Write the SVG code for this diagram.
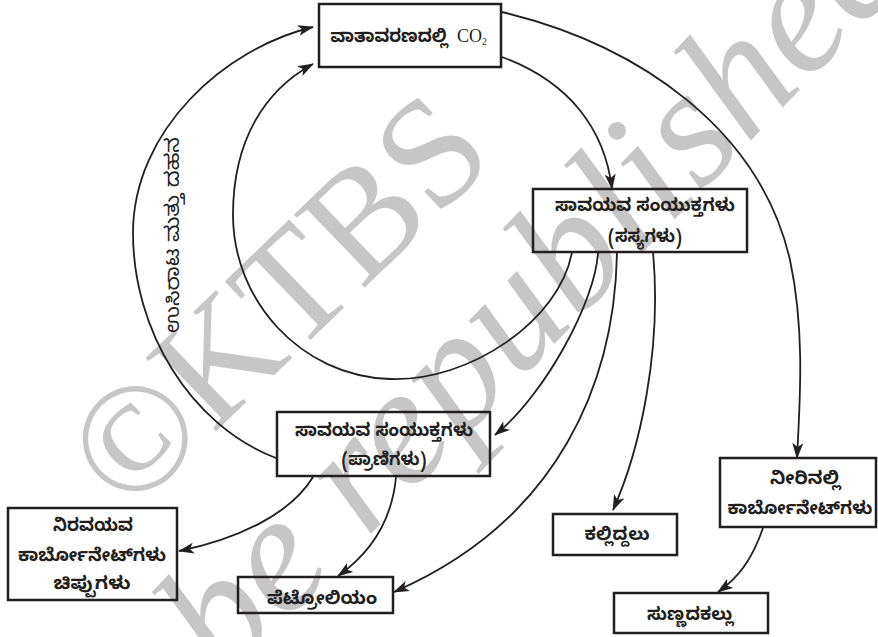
<svg xmlns="http://www.w3.org/2000/svg" width="878" height="637" viewBox="0 0 878 637">
<style>
.box{fill:none;stroke:#231f20;stroke-width:2.5}
.kn{font-family:"Noto Sans Kannada","Noto Sans",sans-serif;font-size:18px;font-weight:bold;fill:#231f20;text-anchor:middle}
.lbl{font-family:"Noto Sans Kannada","Noto Sans",sans-serif;font-size:19px;fill:#231f20;text-anchor:middle}
.serif{font-family:"Liberation Serif","Times New Roman",serif;font-size:18px;fill:#231f20}
.wm{font-family:"Liberation Serif","Times New Roman",serif;fill:#c6c6c6}
.conn path{fill:none;stroke:#231f20;stroke-width:1.8;marker-end:url(#ah)}
</style>
<defs>
<marker id="ah" markerWidth="16" markerHeight="12" refX="15" refY="6" orient="auto" markerUnits="userSpaceOnUse">
<path d="M0,0.5 L16,6 L0,11.5 L4,6 z" fill="#231f20"/>
</marker>
</defs>
<rect width="878" height="637" fill="#ffffff"/>
<g id="watermark">
<text class="wm" font-size="155" transform="translate(128,516) rotate(-44)">©KTBS</text>
<text class="wm" font-size="169" font-style="italic" transform="translate(226,684) rotate(-46)">be republished</text>
</g>
<g class="conn" id="connectors">
<path d="M276,458 C190,425 133,330 133,233 C133,130 225,48 313,27"/>
<path d="M572,252 C560,320 470,382 390,379 C300,376 233,300 233,215 C233,140 265,90 313,64"/>
<path d="M502,57 C570,82 605,130 612,189"/>
<path d="M502,12 C640,45 760,130 790,260 C805,330 800,400 797,458"/>
<path d="M598,252 C596,300 545,395 495,435"/>
<path d="M617,252 C615,380 560,520 394,592"/>
<path d="M653,252 C662,350 640,450 613,510"/>
<path d="M313,477 C290,515 235,540 179,551"/>
<path d="M396,477 C392,520 372,552 338,576"/>
<path d="M763,528 C752,560 738,578 718,592"/>
<text class="lbl" transform="translate(176,235) rotate(-90)" dominant-baseline="central" textLength="196" lengthAdjust="spacingAndGlyphs">ಉಸಿರಾಟ ಮತ್ತು ದಹನ</text>
</g>
<g id="n-atmosphere">
<rect class="box" x="319" y="4" width="182" height="63"/>
<text class="kn" x="389" y="42" textLength="117" lengthAdjust="spacingAndGlyphs">ವಾತಾವರಣದಲ್ಲಿ</text>
<text class="serif" x="457" y="42">CO<tspan font-size="10" dy="3">2</tspan></text>
</g>
<g id="n-plants">
<rect class="box" x="533" y="189" width="214" height="63"/>
<text class="kn" x="645" y="211" textLength="180" lengthAdjust="spacingAndGlyphs">ಸಾವಯವ ಸಂಯುಕ್ತಗಳು</text>
<text class="kn" x="645" y="242" textLength="74" lengthAdjust="spacingAndGlyphs">(ಸಸ್ಯಗಳು)</text>
</g>
<g id="n-animals">
<rect class="box" x="277" y="412" width="213" height="64"/>
<text class="kn" x="384" y="436" textLength="178" lengthAdjust="spacingAndGlyphs">ಸಾವಯವ ಸಂಯುಕ್ತಗಳು</text>
<text class="kn" x="384" y="465" textLength="85" lengthAdjust="spacingAndGlyphs">(ಪ್ರಾಣಿಗಳು)</text>
</g>
<g id="n-inorganic">
<rect class="box" x="8" y="508" width="169" height="92"/>
<text class="kn" x="93" y="531" textLength="80" lengthAdjust="spacingAndGlyphs">ನಿರವಯವ</text>
<text class="kn" x="92" y="561" textLength="148" lengthAdjust="spacingAndGlyphs">ಕಾರ್ಬೋನೇಟ್‌ಗಳು</text>
<text class="kn" x="92" y="589" textLength="77" lengthAdjust="spacingAndGlyphs">ಚಿಪ್ಪುಗಳು</text>
</g>
<g id="n-petroleum">
<rect class="box" x="238" y="577" width="155" height="36"/>
<text class="kn" x="322" y="604" textLength="110" lengthAdjust="spacingAndGlyphs">ಪೆಟ್ರೋಲಿಯಂ</text>
</g>
<g id="n-coal">
<rect class="box" x="553" y="514" width="124" height="41"/>
<text class="kn" x="617" y="540" textLength="65" lengthAdjust="spacingAndGlyphs">ಕಲ್ಲಿದ್ದಲು</text>
</g>
<g id="n-water-carbonates">
<rect class="box" x="720" y="458" width="156" height="69"/>
<text class="kn" x="805" y="484" textLength="70" lengthAdjust="spacingAndGlyphs">ನೀರಿನಲ್ಲಿ</text>
<text class="kn" x="800" y="514" textLength="145" lengthAdjust="spacingAndGlyphs">ಕಾರ್ಬೋನೇಟ್‌ಗಳು</text>
</g>
<g id="n-limestone">
<rect class="box" x="614" y="593" width="154" height="40"/>
<text class="kn" x="690" y="620" textLength="86" lengthAdjust="spacingAndGlyphs">ಸುಣ್ಣದಕಲ್ಲು</text>
</g>
</svg>
